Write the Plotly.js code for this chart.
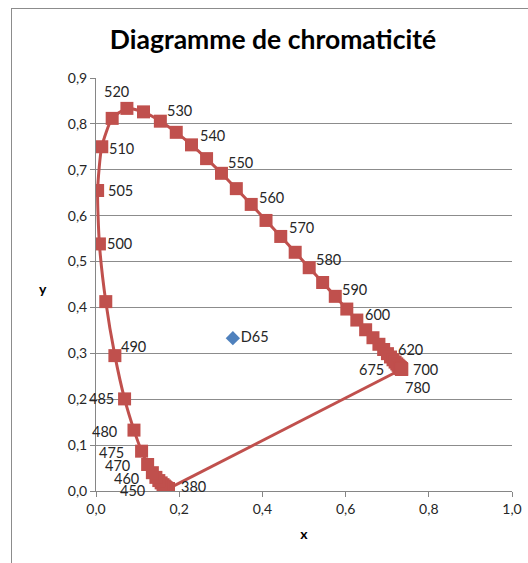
<!DOCTYPE html>
<html>
<head>
<meta charset="utf-8">
<script src="https://cdn.plot.ly/plotly-3.0.1.min.js"></script>
<style>
  html, body { margin: 0; padding: 0; background: #fff; }
  #wrap { position: relative; width: 528px; height: 563px; overflow: hidden; }
  #chart { position: absolute; left: 0; top: 0; width: 528px; height: 563px; }
  #frame { position: absolute; left: 11px; top: 8px; width: 600px; height: 600px;
           border-left: 1px solid #8c8c8c; border-top: 1px solid #8c8c8c; pointer-events: none; }
</style>
</head>
<body>
<div id="wrap"><div id="chart"></div><div id="frame"></div></div>
<script>
// Spectral locus (CIE 1931, 2°), 5 nm steps
const wavelengths = [380,385,390,395,400,405,410,415,420,425,430,435,440,445,450,455,460,465,470,475,480,485,490,495,500,505,510,515,520,525,530,535,540,545,550,555,560,565,570,575,580,585,590,595,600,605,610,615,620,625,630,635,640,645,650,655,660,665,670,675,680,685,690,695,700,780];
const cieX = [0.1741,0.1740,0.1738,0.1736,0.1733,0.1730,0.1726,0.1721,0.1714,0.1703,0.1689,0.1669,0.1644,0.1611,0.1566,0.1510,0.1440,0.1355,0.1241,0.1096,0.0913,0.0687,0.0454,0.0235,0.0082,0.0039,0.0139,0.0389,0.0743,0.1142,0.1547,0.1929,0.2296,0.2658,0.3016,0.3373,0.3731,0.4087,0.4441,0.4788,0.5125,0.5448,0.5752,0.6029,0.6270,0.6482,0.6658,0.6801,0.6915,0.7006,0.7079,0.7140,0.7190,0.7230,0.7260,0.7283,0.7300,0.7311,0.7320,0.7327,0.7334,0.7340,0.7344,0.7346,0.7347,0.7347];
const cieY = [0.0050,0.0050,0.0049,0.0049,0.0048,0.0048,0.0048,0.0048,0.0051,0.0058,0.0069,0.0086,0.0109,0.0138,0.0177,0.0227,0.0297,0.0399,0.0578,0.0868,0.1327,0.2007,0.2950,0.4127,0.5384,0.6548,0.7502,0.8120,0.8338,0.8262,0.8059,0.7816,0.7543,0.7243,0.6923,0.6589,0.6245,0.5896,0.5547,0.5202,0.4866,0.4544,0.4242,0.3965,0.3725,0.3514,0.3340,0.3197,0.3083,0.2993,0.2920,0.2859,0.2809,0.2770,0.2740,0.2717,0.2700,0.2689,0.2680,0.2673,0.2666,0.2660,0.2656,0.2654,0.2653,0.2653];

// Labelled wavelengths
const labelledWavelengths = [380,450,460,470,475,480,485,490,500,505,510,520,530,540,550,560,570,580,590,600,620,675,700,780];

// White point
const whiteName = ["D65"];
const whiteX = [0.329];
const whiteY = [0.333];

// Label offsets (pixels, styling only)
const labelOffset = {
  380:[25,2], 450:[-29,-8], 460:[-29,-1], 470:[-30,-1], 475:[-30,-1], 480:[-29,-1], 485:[-23,0],
  490:[19,9], 500:[20,0], 505:[23,0], 510:[20,-2], 520:[-10,17], 530:[19,11], 540:[21,9],
  550:[19,11], 560:[20,7], 570:[21,9], 580:[19,8], 590:[19,7], 600:[21,6], 620:[27,0],
  675:[-29,-1], 700:[24,0], 780:[16,-18]
};

const red = '#C0504D';
const blue = '#4F81BD';
const font = 'Lato, "Liberation Sans", sans-serif';

const nLast = cieX.length - 1;
const traces = [
  { // closing line (purple boundary)
    x: [cieX[nLast], cieX[0]], y: [cieY[nLast], cieY[0]],
    type: 'scatter', mode: 'lines', line: {color: red, width: 3}, hoverinfo: 'skip', showlegend: false
  },
  {
    x: cieX, y: cieY, type: 'scatter', mode: 'lines+markers',
    line: {color: red, width: 3, shape: 'spline', smoothing: 0.6},
    marker: {symbol: 'square', size: 13, color: red, line: {width: 0}},
    text: wavelengths.map(String), showlegend: false
  },
  {
    x: whiteX, y: whiteY, type: 'scatter', mode: 'markers+text',
    text: whiteName, textposition: 'middle right',
    textfont: {family: font, size: 14.5, color: '#262626'},
    marker: {symbol: 'diamond', size: 11, color: blue}, showlegend: false
  }
];

const annotations = labelledWavelengths.map(w => {
  const i = wavelengths.indexOf(w);
  const off = labelOffset[w] || [18, 0];
  return {
    x: cieX[i], y: cieY[i], xref: 'x', yref: 'y', text: String(w), showarrow: false,
    xshift: off[0], yshift: off[1], font: {family: font, size: 14.5, color: '#262626'}
  };
});
annotations.push({
  text: '<b>y</b>', xref: 'paper', yref: 'paper', x: -0.142, y: 0.49, showarrow: false,
  font: {family: font, size: 14, color: '#000'}
});

const layout = {
  width: 528, height: 563,
  margin: {l: 96, r: 16, t: 78, b: 72},
  paper_bgcolor: 'rgba(0,0,0,0)', plot_bgcolor: '#fff',
  separators: ', ',
  font: {family: font, size: 14, color: '#262626'},
  title: {
    text: '<b>Diagramme de chromaticité</b>',
    font: {family: font, size: 26.5, color: '#000'},
    x: 0.517, xref: 'container', xanchor: 'center',
    y: 0.929, yref: 'container', yanchor: 'middle'
  },
  xaxis: {
    range: [0, 1], dtick: 0.2, tick0: 0, tickformat: '.1f',
    showgrid: false, zeroline: false, showline: true, linecolor: '#868686', linewidth: 1,
    ticks: 'outside', ticklen: 5, tickcolor: '#868686',
    tickfont: {family: font, size: 14, color: '#262626'},
    title: {text: '<b>x</b>', font: {family: font, size: 14, color: '#000'}, standoff: 13}
  },
  yaxis: {
    range: [0, 0.9], dtick: 0.1, tick0: 0, tickformat: '.1f',
    showgrid: true, gridcolor: '#8c8c8c', gridwidth: 1,
    zeroline: false, showline: true, linecolor: '#868686', linewidth: 1,
    ticks: 'outside', ticklen: 5, tickcolor: '#868686',
    tickfont: {family: font, size: 14, color: '#262626'}
  },
  annotations: annotations
};

Plotly.newPlot('chart', traces, layout, {displayModeBar: false, staticPlot: true});
</script>
</body>
</html>
